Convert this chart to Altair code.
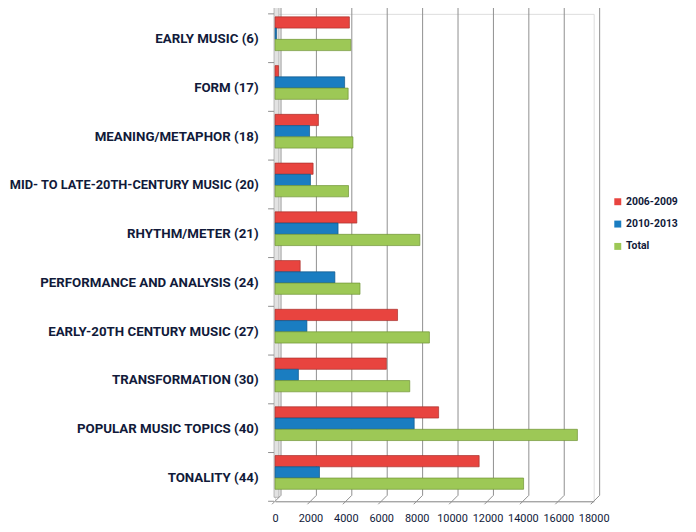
import altair as alt
import pandas as pd

categories = [
    "EARLY MUSIC (6)",
    "FORM (17)",
    "MEANING/METAPHOR (18)",
    "MID- TO LATE-20TH-CENTURY MUSIC (20)",
    "RHYTHM/METER (21)",
    "PERFORMANCE AND ANALYSIS (24)",
    "EARLY-20TH CENTURY MUSIC (27)",
    "TRANSFORMATION (30)",
    "POPULAR MUSIC TOPICS (40)",
    "TONALITY (44)",
]
s2006 = [4200, 200, 2450, 2150, 4620, 1420, 6920, 6290, 9240, 11530]
s2010 = [80, 3930, 1950, 2000, 3560, 3380, 1800, 1320, 7860, 2510]
total = [4280, 4130, 4400, 4150, 8180, 4800, 8720, 7610, 17080, 14040]
series = ["2006-2009", "2010-2013", "Total"]
x_ticks = list(range(0, 18001, 2000))

colors = ["#e8443f", "#1a7dc1", "#9dc856"]
edges = ["#a8302b", "#0e5688", "#6f9434"]
text_color = "#111a3a"

rows = []
for i, c in enumerate(categories):
    for s, vals in zip(series, [s2006, s2010, total]):
        rows.append({"category": c, "series": s, "value": vals[i]})
df = pd.DataFrame(rows)
grid_df = pd.DataFrame({"value": x_ticks})
one = pd.DataFrame({"a": [0]})

W, H = 321, 491
label_font = "Roboto, sans-serif"
longest = categories[3]

x_scale = alt.Scale(domain=[0, 18000], nice=False)
y_scale = alt.Scale(paddingInner=0, paddingOuter=0)
x_axis = alt.Axis(
    values=x_ticks, title=None, grid=False, ticks=False, format="d",
    domainColor="#8f8f8f", offset=0, labelPadding=11,
    labelFont=label_font, labelFontSize=11, labelColor=text_color,
    labelFlush=False, labelOverlap=False,
)
y_axis = alt.Axis(
    title=None, ticks=False, domain=False, labelPadding=17, labelOffset=1,
    labelFont=label_font, labelFontWeight="bold",
    labelFontSize={"condition": {"test": f"datum.value == '{longest}'", "value": 12.9}, "value": 13.4},
    labelColor=text_color, labelLimit=400,
)

wall = alt.Chart(one).mark_rect(fill="#e2e2e2", stroke="#a8a8a8", strokeWidth=0.8).encode(
    x=alt.value(-1), x2=alt.value(4), y=alt.value(-7), y2=alt.value(H - 4)
)

grid = alt.Chart(grid_df).mark_rule(color="#8f8f8f", strokeWidth=1, xOffset=6).encode(
    x=alt.X("value:Q", scale=x_scale, axis=x_axis), y=alt.value(-9), y2=alt.value(H - 6)
)

floor = alt.Chart(grid_df).mark_rule(color="#8f8f8f", strokeWidth=1, xOffset=6, x2Offset=-3).encode(
    x=alt.X("value:Q", scale=x_scale, axis=x_axis), x2="value:Q",
    y=alt.value(H - 6), y2=alt.value(H + 3)
)

ticks_df = pd.DataFrame({"category": categories})
yticks = alt.Chart(ticks_df).mark_rule(color="#8f8f8f", strokeWidth=1).encode(
    y=alt.Y("category:N", sort=categories, bandPosition=0, scale=y_scale, axis=y_axis),
    x=alt.value(-7), x2=alt.value(-1),
)
ytick_bottom = alt.Chart(one).mark_rule(color="#8f8f8f", strokeWidth=1).encode(
    y=alt.value(H), x=alt.value(-7), x2=alt.value(-1)
)

bars = alt.Chart(df).mark_bar(strokeWidth=0.7).encode(
    y=alt.Y("category:N", sort=categories, scale=y_scale, axis=y_axis),
    x=alt.X("value:Q", scale=x_scale, axis=x_axis),
    yOffset=alt.YOffset(
        "series:N", sort=series,
        scale=alt.Scale(paddingInner=0, paddingOuter=0.666, align=0.2),
    ),
    color=alt.Color(
        "series:N",
        sort=series,
        scale=alt.Scale(domain=series, range=colors),
        legend=alt.Legend(
            title=None, orient="none", legendX=340, legendY=184,
            symbolType="square", symbolSize=49, symbolStrokeWidth=0,
            labelFont=label_font, labelFontWeight="bold", labelFontSize=10.5,
            labelColor=text_color, rowPadding=11.5, labelOffset=3,
        ),
    ),
    stroke=alt.Stroke("series:N", sort=series, scale=alt.Scale(domain=series, range=edges), legend=None),
)

chart = alt.layer(wall, grid, floor, yticks, ytick_bottom, bars).properties(
    width=W, height=H,
    autosize=alt.AutoSizeParams(type="none"),
    padding={"left": 269, "top": 4, "right": 95, "bottom": 24},
).configure_view(stroke=None).configure(background="white")

chart.save("out.html", embed_options={"renderer": "svg", "actions": False})
